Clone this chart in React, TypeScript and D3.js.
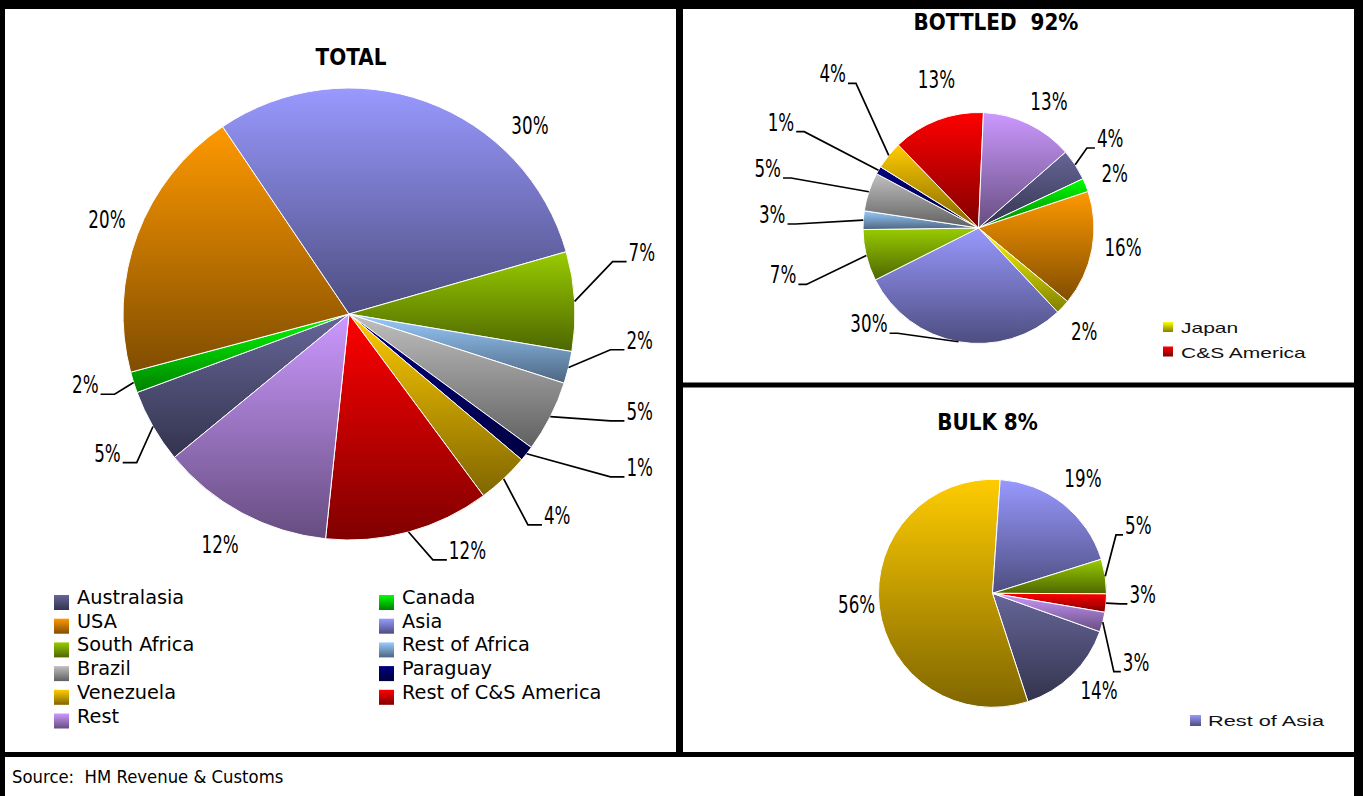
import React, { useEffect, useRef } from 'react'
import * as d3 from 'd3'

// ---- data ----
const totalNames = ['Australasia', 'Canada', 'USA', 'Asia', 'South Africa', 'Rest of Africa', 'Brazil', 'Paraguay', 'Venezuela', 'Rest of C&S America', 'Rest']
const totalValues = [5.3, 1.5, 19.7, 30.0, 7.1, 2.3, 5.1, 1.1, 3.7, 11.8, 12.4]
const totalLabels = ['5%', '2%', '20%', '30%', '7%', '2%', '5%', '1%', '4%', '12%', '12%']

const bottledNames = ['Australasia', 'Canada', 'USA', 'Japan', 'Asia', 'South Africa', 'Rest of Africa', 'Brazil', 'Paraguay', 'Venezuela', 'C&S America', 'Rest']
const bottledValues = [4.4, 1.9, 16.1, 2.0, 29.6, 7.2, 2.6, 5.4, 1.1, 3.9, 12.9, 12.9]
const bottledLabels = ['4%', '2%', '16%', '2%', '30%', '7%', '3%', '5%', '1%', '4%', '13%', '13%']

const bulkNames = ['Australasia', 'Venezuela', 'Rest of Asia', 'South Africa', 'C&S America', 'Rest']
const bulkValues = [14.5, 56.1, 19.1, 4.9, 2.6, 2.8]
const bulkLabels = ['14%', '56%', '19%', '5%', '3%', '3%']

const totalLegend = totalNames
const bottledLegend = ['Japan', 'C&S America']
const bulkLegend = ['Rest of Asia']

const colours: Record<string, string> = {
  Australasia: '#666699',
  Canada: '#00FF00',
  USA: '#FF9900',
  Asia: '#9999FF',
  'Rest of Asia': '#9999FF',
  Japan: '#FFFF00',
  'South Africa': '#99CC00',
  'Rest of Africa': '#99CCFF',
  Brazil: '#C0C0C0',
  Paraguay: '#000080',
  Venezuela: '#FFCC00',
  'Rest of C&S America': '#FF0000',
  'C&S America': '#FF0000',
  Rest: '#CC99FF',
}

// label placement: [angle in degrees, distance in radii, leader line?]
const totalLabelAt: [number, number, boolean][] = [
  [236.7, 1.198, true], [252.1, 1.155, true], [291.5, 1.151, false], [43.7, 1.159, false],
  [79.3, 1.25, true], [97.4, 1.229, true], [111.2, 1.307, true], [120.6, 1.416, true],
  [137.55, 1.265, true], [158.3, 1.171, true], [209.3, 1.165, false],
]
const bottledLabelAt: [number, number, boolean][] = [
  [55.5, 1.223, true], [67.8, 1.274, false], [97.4, 1.262, false], [134.1, 1.275, false],
  [220.2, 1.193, true], [252.6, 1.634, true], [271.2, 1.654, true], [284.35, 1.747, true],
  [297.85, 1.785, true], [317.95, 1.687, true], [344.3, 1.345, false], [29.0, 1.258, false],
]
const bulkLabelAt: [number, number, boolean][] = [
  [132.15, 1.26, false], [265.7, 1.195, false], [38.0, 1.289, false],
  [65.9, 1.254, true], [94.5, 1.187, true], [121.4, 1.319, true],
]

const W = 1363
const H = 796
const labelFont = 'DejaVu Sans, Verdana, sans-serif'

function shade(c: string, k: number) {
  const col = d3.rgb(c)
  return d3.rgb(col.r * k, col.g * k, col.b * k).formatHex()
}

function gradient(defs: any, id: string, c: string) {
  const lg = defs.append('linearGradient').attr('id', id)
    .attr('x1', 0).attr('y1', 0).attr('x2', 0).attr('y2', 1)
  lg.append('stop').attr('offset', '0%').attr('stop-color', c)
  lg.append('stop').attr('offset', '100%').attr('stop-color', shade(c, 0.5))
}

// text squeezed/stretched horizontally like the bitmap original
function addText(parent: any, x: number, y: number, txt: string, opts: any) {
  const g = parent.append('g').attr('transform', `translate(${x},${y}) scale(${opts.sx},1)`)
  g.append('text')
    .attr('text-anchor', opts.anchor || 'start')
    .attr('font-family', opts.family || labelFont)
    .attr('font-size', opts.size)
    .attr('font-weight', opts.weight || 'normal')
    .attr('fill', opts.fill || '#000')
    .style('white-space', 'pre')
    .text(txt)
}

function drawPie(svg: any, defs: any, id: string, names: string[], values: number[], labels: string[],
  labelAt: [number, number, boolean][], geom: { cx: number; cy: number; r: number; start: number; hlen: number }) {
  const { cx, cy, r, start, hlen } = geom
  const a0 = (start * Math.PI) / 180
  const pie = d3.pie<number>().sort(null).value(d => d).startAngle(a0).endAngle(a0 + 2 * Math.PI)
  const arcs = pie(values)
  const arc = d3.arc<d3.PieArcDatum<number>>().innerRadius(0).outerRadius(r)

  names.forEach((n, i) => gradient(defs, `${id}-g${i}`, colours[n]))

  const g = svg.append('g').attr('transform', `translate(${cx},${cy})`)
  g.selectAll('path.slice')
    .data(arcs)
    .enter()
    .append('path')
    .attr('class', 'slice')
    .attr('d', arc)
    .attr('fill', (_d: any, i: number) => `url(#${id}-g${i})`)
    .attr('stroke', '#fff')
    .attr('stroke-width', 1)

  const fs = 25
  arcs.forEach((a, i) => {
    const [deg, k, leader] = labelAt[i]
    const t = (deg * Math.PI) / 180
    const ax = Math.sin(t) * r * k
    const ay = -Math.cos(t) * r * k
    if (leader) {
      const m = (a.startAngle + a.endAngle) / 2
      const px = Math.sin(m) * r
      const py = -Math.cos(m) * r
      const side = ax >= 0 ? 1 : -1
      const path = d3.path()
      path.moveTo(px, py)
      path.lineTo(ax - side * hlen, ay)
      path.lineTo(ax, ay)
      g.append('path').attr('d', path.toString()).attr('fill', 'none')
        .attr('stroke', '#000').attr('stroke-width', 1.7)
      addText(g, ax + side * 2, ay - 1, labels[i], { size: fs, sx: 0.67, anchor: side > 0 ? 'start' : 'end' })
    } else {
      addText(g, ax, ay + fs * 0.365, labels[i], { size: fs, sx: 0.67, anchor: 'middle' })
    }
  })
}

export default function App() {
  const svgRef = useRef<SVGSVGElement>(null)

  useEffect(() => {
    if (!svgRef.current) return
    const svg = d3.select(svgRef.current)
    svg.selectAll('*').remove()
    const defs = svg.append('defs')

    // frames
    svg.append('rect').attr('width', W).attr('height', H).attr('fill', '#000')
    svg.append('rect').attr('x', 5).attr('y', 9).attr('width', 671).attr('height', 743).attr('fill', '#fff')
    svg.append('rect').attr('x', 683).attr('y', 9).attr('width', 671).attr('height', 373.5).attr('fill', '#fff')
    svg.append('rect').attr('x', 683).attr('y', 387.5).attr('width', 671).attr('height', 364.5).attr('fill', '#fff')
    svg.append('rect').attr('x', 5).attr('y', 757).attr('width', 1349).attr('height', 39).attr('fill', '#fff')

    // titles
    const title = { size: 23, sx: 0.87, weight: 'bold', anchor: 'middle' }
    addText(svg, 351, 65, 'TOTAL', title)
    addText(svg, 996, 29.5, 'BOTTLED  92%', { ...title })
    addText(svg, 987.5, 430, 'BULK 8%', title)

    drawPie(svg, defs, 'tot', totalNames, totalValues, totalLabels, totalLabelAt,
      { cx: 349, cy: 314, r: 226, start: 230.6, hlen: 14 })
    drawPie(svg, defs, 'bot', bottledNames, bottledValues, bottledLabels, bottledLabelAt,
      { cx: 978.5, cy: 228, r: 115.5, start: 48.9, hlen: 8 })
    drawPie(svg, defs, 'blk', bulkNames, bulkValues, bulkLabels, bulkLabelAt,
      { cx: 992.5, cy: 593.3, r: 114, start: 109.7, hlen: 7 })

    // TOTAL legend, two columns
    totalLegend.forEach((n, i) => {
      gradient(defs, `lt-${i}`, colours[n])
      const x = i % 2 === 0 ? 54 : 379
      const y = 604 + Math.floor(i / 2) * 23.7
      svg.append('rect').attr('x', x).attr('y', y - 9).attr('width', 15).attr('height', 15)
        .attr('fill', `url(#lt-${i})`)
      addText(svg, x + 23, y, n, { size: 20, sx: 0.965 })
    })

    // small legends on the right
    const smallFont = 'Liberation Sans, Arial, sans-serif'
    bottledLegend.forEach((n, i) => {
      gradient(defs, `lb-${i}`, colours[n])
      const y = 333 + i * 24.5
      svg.append('rect').attr('x', 1163).attr('y', y - 11).attr('width', 10).attr('height', 10)
        .attr('fill', `url(#lb-${i})`)
      addText(svg, 1181, y, n, { size: 14, sx: 1.5, family: smallFont, fill: '#111' })
    })
    bulkLegend.forEach((n, i) => {
      gradient(defs, `lk-${i}`, colours[n])
      const y = 726 + i * 24.5
      svg.append('rect').attr('x', 1190).attr('y', y - 11).attr('width', 11).attr('height', 11)
        .attr('fill', `url(#lk-${i})`)
      addText(svg, 1208, y, n, { size: 15, sx: 1.45, family: smallFont, fill: '#111' })
    })

    // source note
    addText(svg, 12, 783, 'Source:  HM Revenue & Customs', { size: 17, sx: 0.97 })
  }, [])

  return (
    <svg
      ref={svgRef}
      width={W}
      height={H}
      style={{ position: 'absolute', left: 0, top: 0, display: 'block' }}
    />
  )
}
